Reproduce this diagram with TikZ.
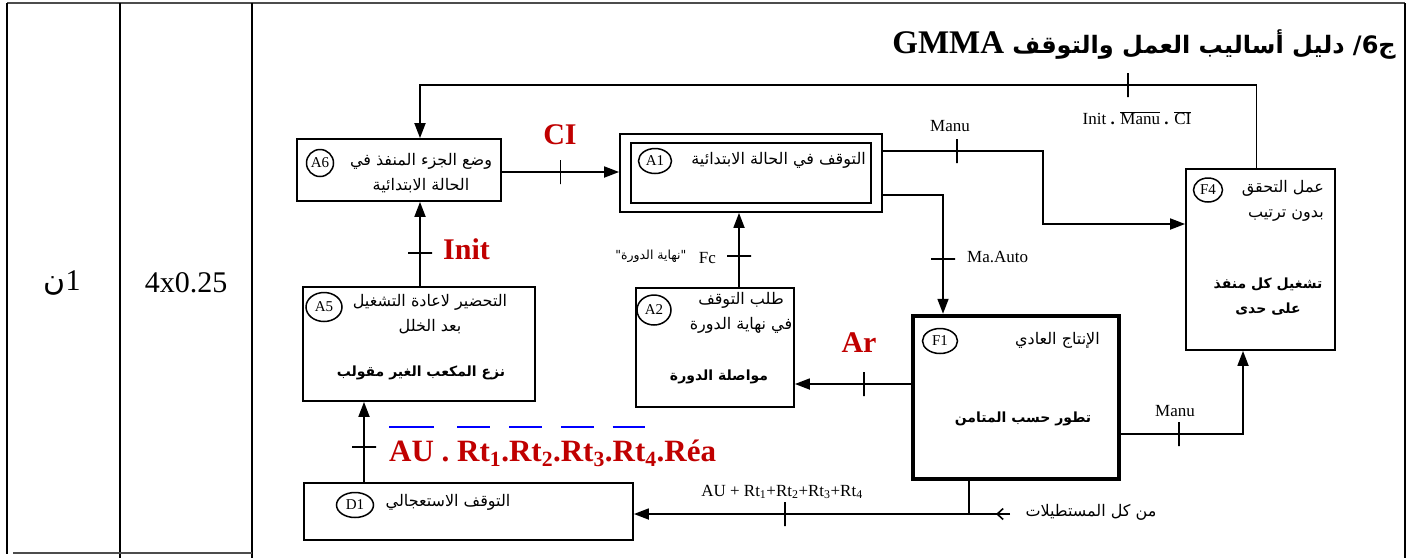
\documentclass[tikz,border=0pt]{standalone}
\usepackage{fontspec}
\setmainfont{Liberation Serif}
\newfontfamily\arf[Script=Arabic]{DejaVu Sans}
\usetikzlibrary{arrows.meta,shapes.geometric,calc}
\TeXXeTstate=1
\newcommand\rtltxt[1]{\beginR #1\endR}
\newlength\bolen
\newcommand\bo[1]{\settowidth\bolen{#1}\rlap{\textcolor{blue}{\rule[1.08em]{\bolen}{1.6pt}}}#1}
\definecolor{dred}{RGB}{192,0,0}
\begin{document}
\begin{tikzpicture}[x=1pt,y=-1pt,
  box/.style={draw, line width=1.8pt, rectangle, inner sep=0pt},
  tag/.style={draw, ellipse, line width=1.5pt, inner sep=0pt, font=\fontsize{15}{15}\selectfont},
  arr/.style={line width=1.8pt, -{Triangle[length=15pt,width=11pt]}},
  tickv/.style={draw, line width=1.6pt, inner sep=0pt, minimum width=0pt, minimum height=24pt, outer sep=0pt},
  tickh/.style={draw, line width=1.6pt, inner sep=0pt, minimum width=24pt, minimum height=0pt, outer sep=0pt},
  lbl/.style={font=\fontsize{17}{19}\selectfont, inner sep=1pt},
  ar/.style={font=\arf\fontsize{16}{25}\selectfont, align=center, inner sep=0pt},
  arb/.style={font=\arf\bfseries\fontsize{14}{25}\selectfont, align=center, inner sep=0pt},
  redl/.style={text=dred, font=\bfseries\fontsize{30}{32}\selectfont, inner sep=0pt, anchor=base},
]
\useasboundingbox (0,0) rectangle (1415,558);
% table
\draw[line width=2pt, black!70] (7,3) -- (1405,3);
\draw[line width=2pt] (7,3) -- (7,554);
\draw[line width=2pt] (120,3) -- (120,558);
\draw[line width=2pt] (252,3) -- (252,558);
\draw[line width=2pt] (1405,3) -- (1405,558);
\draw[line width=2pt, black!70] (13,553) -- (252,553);
\node[font=\fontsize{30}{30}\selectfont] (c1) at (62,283) {{\arf ن}1};
\node[font=\fontsize{30}{30}\selectfont] (c2) at (186,283) {4x0.25};
% title
\node[anchor=east, inner sep=0pt, font=\fontsize{33}{36}\selectfont] (title) at (1396,45) {\textbf{GMMA}~{\arf\bfseries\fontsize{24}{28}\selectfont\rtltxt{ج6/ دليل أساليب العمل والتوقف}}};
% boxes
\node[box, minimum width=204pt, minimum height=62pt] (A6) at (399,170) {};
\node[box, minimum width=262pt, minimum height=78pt] (A1) at (751,173) {};
\node[box, minimum width=240pt, minimum height=60pt] (A1i) at (751,173) {};
\node[box, minimum width=149pt, minimum height=181pt] (F4) at (1260.5,259.5) {};
\node[box, line width=4.5pt, minimum width=206pt, minimum height=163pt] (F1) at (1016,397.5) {};
\node[box, minimum width=158pt, minimum height=119pt] (A2) at (715,347.5) {};
\node[box, minimum width=232pt, minimum height=114pt] (A5) at (419,344) {};
\node[box, minimum width=329pt, minimum height=57pt] (D1) at (468.5,511.5) {};
% tags
\node[tag, minimum width=27pt, minimum height=27pt] (tA6) at (320,163) {A6};
\node[tag, minimum width=33pt, minimum height=25pt] (tA1) at (655,161) {A1};
\node[tag, minimum width=29pt, minimum height=24pt] (tF4) at (1208,190) {F4};
\node[tag, minimum width=35pt, minimum height=25pt] (tF1) at (940,341) {F1};
\node[tag, minimum width=34pt, minimum height=30pt] (tA2) at (654,310) {A2};
\node[tag, minimum width=36pt, minimum height=29pt] (tA5) at (324,307) {A5};
\node[tag, minimum width=37pt, minimum height=25pt] (tD1) at (355,505) {D1};
% texts
\node[ar] (xA6) at (421,173) {\rtltxt{وضع الجزء المنفذ في}\\\rtltxt{الحالة الابتدائية}};
\node[ar, anchor=east] (xA1) at (866,160) {\rtltxt{التوقف في الحالة الابتدائية}};
\node[ar, align=right, anchor=east] (xF4) at (1324,201) {\rtltxt{عمل التحقق}\\\rtltxt{بدون ترتيب}};
\node[arb] (bF4) at (1268,297) {\rtltxt{تشغيل كل منفذ}\\\rtltxt{على حدى}};
\node[ar, anchor=east] (xF1) at (1100,340) {\rtltxt{الإنتاج العادي}};
\node[arb] (bF1) at (1023,419) {\rtltxt{تطور حسب المتامن}};
\node[ar] (xA2) at (741,313) {\rtltxt{طلب التوقف}\\\rtltxt{في نهاية الدورة}};
\node[arb] (bA2) at (719,377) {\rtltxt{مواصلة الدورة}};
\node[ar] (xA5) at (430,314) {\rtltxt{التحضير لاعادة التشغيل}\\\rtltxt{بعد الخلل}};
\node[arb] (bA5) at (421,373) {\rtltxt{نزع المكعب الغير مقولب}};
\node[ar] (xD1) at (448,502) {\rtltxt{التوقف الاستعجالي}};
% A6 -> A1
\draw[arr] ([yshift=-2pt]A6.east) -- ([yshift=-2pt]A6.east -| A1.west) node[pos=0.5, tickv]{};
\node[redl] (lCI) at (560,144) {CI};
% F4 -> A6
\coordinate (topy) at (0,85);
\draw[arr] ([xshift=-4pt]F4.north) |- ([xshift=21pt]A6.north |- topy) -- ([xshift=21pt]A6.north);
\node[tickv] (t2) at (1128,85) {};
\node[lbl] (l2) at (1137,118) {Init \textbf{.} $\overline{\mbox{Manu}}$ \textbf{.} $\overline{\mbox{CI}}$};
% A1 -> F4
\coordinate (m1) at (1043,0);
\coordinate (F4w) at ([yshift=35.5pt]F4.west);
\draw[arr] ([yshift=22pt]A1.east) -| (m1 |- F4w) -- (F4w);
\node[tickv] (t3) at (957,151) {};
\node[lbl] (l3) at (950,126) {Manu};
% A1 -> F1
\draw[arr] ([yshift=-22pt]A1.east) -| ([xshift=-73pt]F1.north);
\node[tickh] (t4) at (943,259) {};
\node[lbl, anchor=west] (l4) at (966,257) {Ma.Auto};
% F1 -> F4
\draw[arr] ([yshift=-36.5pt]F1.east) -| ([xshift=-17.5pt]F4.south);
\node[tickv] (t5) at (1179,434) {};
\node[lbl] (l5) at (1175,411) {Manu};
% F1 -> A2
\coordinate (F1a) at ([yshift=13.5pt]F1.west);
\draw[arr] (F1a) -- (A2.east |- F1a);
\node[tickv] (t6) at (864,384) {};
\node[redl] (lAr) at (859,352) {Ar};
% A2 -> A1
\draw[arr] ([xshift=24pt]A2.north) -- ([xshift=24pt]A2.north |- A1.south);
\node[tickh] (t7) at (739,256) {};
\node[lbl, anchor=east] (l7) at (717,258) {Fc};
\node[font=\arf\fontsize{12.5}{13}\selectfont, anchor=east] (l7b) at (690,256) {\rtltxt{"نهاية الدورة"}};
% A5 -> A6
\draw[arr] ([xshift=1pt]A5.north) -- ([xshift=1pt]A5.north |- A6.south);
\node[tickh] (t8) at (420,253) {};
\node[redl, anchor=base west] (lInit) at (443,259) {Init};
% D1 -> A5
\draw[arr] ([xshift=-104.5pt]D1.north) -- ([xshift=-104.5pt]D1.north |- A5.south);
\node[tickh] (t9) at (364,447) {};
\node[text=dred, font=\bfseries\fontsize{31}{33}\selectfont, anchor=base west, inner sep=0pt] (l9) at (389,461) {\bo{AU} . \bo{Rt}\textsubscript{1}.\bo{Rt}\textsubscript{2}.\bo{Rt}\textsubscript{3}.\bo{Rt}\textsubscript{4}.Réa};
% F1 -> D1
\coordinate (yb) at (0,514);
\draw[arr] ([xshift=-47pt]F1.south) |- (D1.east |- yb);
\node[tickv] (t10) at (785,514) {};
\node[lbl] (l10) at (782,492) {AU + Rt\textsubscript{1}+Rt\textsubscript{2}+Rt\textsubscript{3}+Rt\textsubscript{4}};
\draw[line width=1.6pt] ([xshift=-47pt]F1.south |- yb) -- ++(41,0) coordinate (fe);
\draw[line width=1.6pt, -{Straight Barb[length=6pt,width=11pt]}] (fe) -- ++(-14,0);
\node[font=\arf\fontsize{16}{18}\selectfont, anchor=west] (l11) at (1022,512) {\rtltxt{من كل المستطيلات}};
\end{tikzpicture}
\end{document}
